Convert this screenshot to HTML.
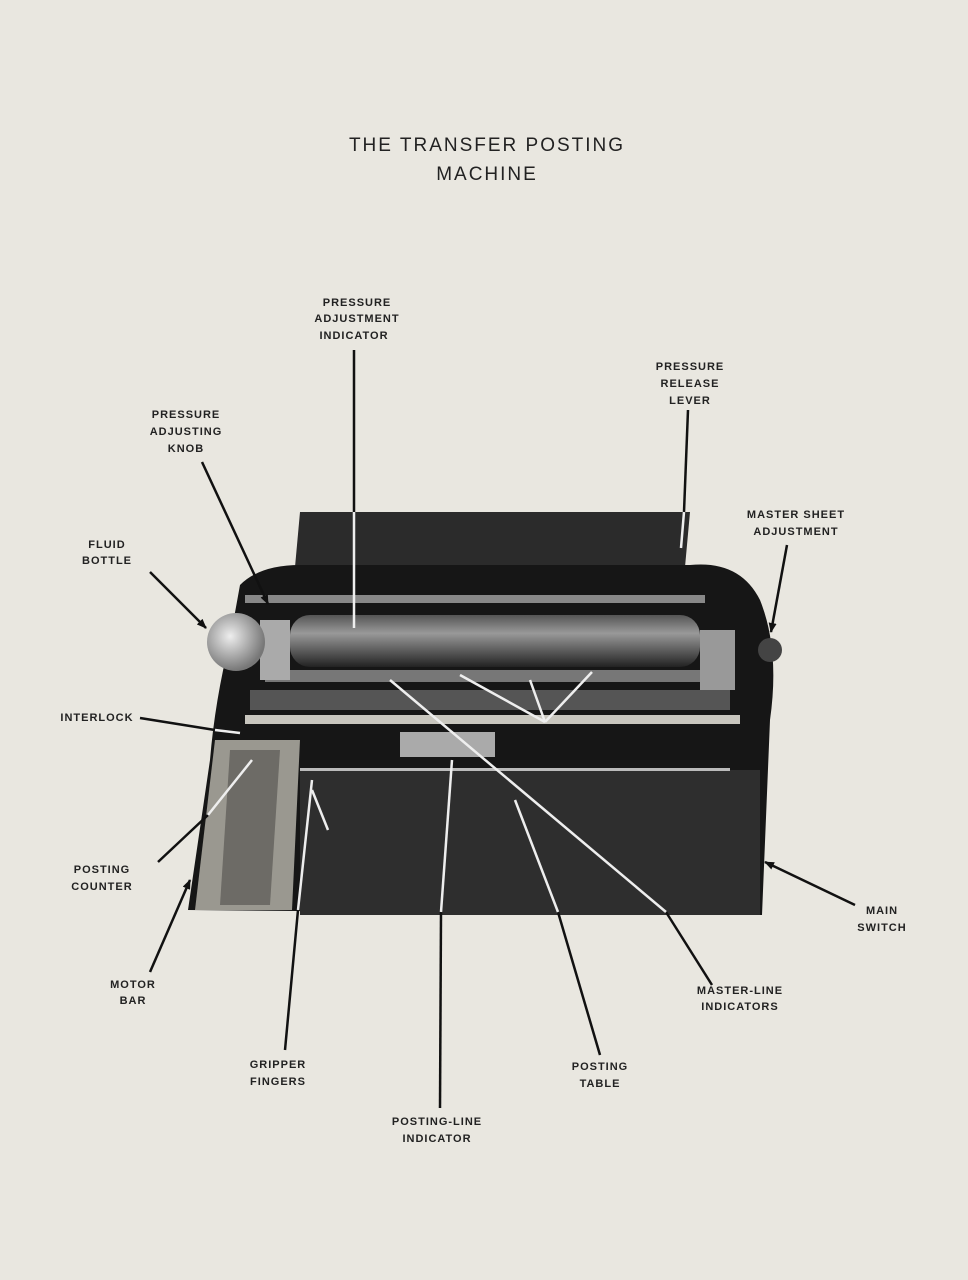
<!DOCTYPE html>
<html><head><meta charset="utf-8"><style>
html,body{margin:0;padding:0;background:#e9e7e0;}
svg{display:block}
text{font-family:"Liberation Sans",sans-serif;fill:#222;}
.l{font-size:11px;letter-spacing:1px;text-anchor:middle;font-weight:bold}
.t{font-size:19px;letter-spacing:2px;text-anchor:middle}
</style></head><body>
<svg width="968" height="1280" viewBox="0 0 968 1280" xmlns="http://www.w3.org/2000/svg">
<defs>
<linearGradient id="rol" x1="0" y1="0" x2="0" y2="1">
<stop offset="0" stop-color="#555"/><stop offset="0.35" stop-color="#999"/><stop offset="1" stop-color="#222"/></linearGradient>
<radialGradient id="bot" cx="0.4" cy="0.4" r="0.6"><stop offset="0" stop-color="#eee"/><stop offset="1" stop-color="#777"/></radialGradient>
<marker id="a" markerWidth="10" markerHeight="8" refX="9" refY="4" orient="auto" markerUnits="userSpaceOnUse"><path d="M0,0 L10,4 L0,8 z" fill="#111"/></marker>
</defs>
<rect width="968" height="1280" fill="#e9e7e0"/>
<text class="t" x="487" y="151">THE TRANSFER POSTING</text>
<text class="t" x="487" y="180">MACHINE</text>
<!-- machine -->
<polygon points="300,512 690,512 682,600 292,600" fill="#2b2b2b"/>
<path d="M240,585 Q260,565 300,565 L690,565 Q740,560 760,600 Q780,650 770,720 L762,915 L188,910 L210,760 Q215,700 230,640 Z" fill="#161616"/>
<rect x="300" y="770" width="460" height="145" fill="#2e2e2e"/>
<polygon points="215,740 300,740 292,910 195,910" fill="#9a9890"/>
<polygon points="230,750 280,750 270,905 220,905" fill="#6d6b66"/>
<rect x="245" y="595" width="460" height="8" fill="#888"/>
<rect x="290" y="615" width="410" height="52" rx="20" fill="url(#rol)"/>
<rect x="265" y="670" width="470" height="12" fill="#777"/>
<rect x="250" y="690" width="480" height="20" fill="#555"/>
<rect x="245" y="715" width="495" height="9" fill="#c8c6be"/>
<rect x="400" y="732" width="95" height="25" fill="#aaa"/>
<rect x="300" y="768" width="430" height="3" fill="#bbb"/>
<rect x="260" y="620" width="30" height="60" fill="#aaa"/>
<rect x="700" y="630" width="35" height="60" fill="#999"/>
<circle cx="236" cy="642" r="29" fill="url(#bot)"/>
<circle cx="770" cy="650" r="12" fill="#444"/>
<!-- labels -->
<g class="l">
<text x="357" y="306">PRESSURE</text><text x="357" y="322">ADJUSTMENT</text><text x="354" y="339">INDICATOR</text>
<text x="690" y="370">PRESSURE</text><text x="690" y="387">RELEASE</text><text x="690" y="404">LEVER</text>
<text x="186" y="418">PRESSURE</text><text x="186" y="435">ADJUSTING</text><text x="186" y="452">KNOB</text>
<text x="107" y="548">FLUID</text><text x="107" y="564">BOTTLE</text>
<text x="796" y="518">MASTER SHEET</text><text x="796" y="535">ADJUSTMENT</text>
<text x="97" y="721">INTERLOCK</text>
<text x="102" y="873">POSTING</text><text x="102" y="890">COUNTER</text>
<text x="133" y="988">MOTOR</text><text x="133" y="1004">BAR</text>
<text x="278" y="1068">GRIPPER</text><text x="278" y="1085">FINGERS</text>
<text x="437" y="1125">POSTING-LINE</text><text x="437" y="1142">INDICATOR</text>
<text x="600" y="1070">POSTING</text><text x="600" y="1087">TABLE</text>
<text x="740" y="994">MASTER-LINE</text><text x="740" y="1010">INDICATORS</text>
<text x="882" y="914">MAIN</text><text x="882" y="931">SWITCH</text>
</g>
<g stroke="#111" stroke-width="2.5" fill="none">
<line x1="354" y1="350" x2="354" y2="512"/>
<line x1="688" y1="410" x2="684" y2="512"/>
<line x1="202" y1="462" x2="268" y2="604" marker-end="url(#a)"/>
<line x1="150" y1="572" x2="206" y2="628" marker-end="url(#a)"/>
<line x1="787" y1="545" x2="771" y2="632" marker-end="url(#a)"/>
<line x1="140" y1="718" x2="215" y2="730"/>
<line x1="158" y1="862" x2="208" y2="815"/>
<line x1="150" y1="972" x2="190" y2="880" marker-end="url(#a)"/>
<line x1="285" y1="1050" x2="298" y2="910"/>
<line x1="440" y1="1108" x2="441" y2="912"/>
<line x1="600" y1="1055" x2="558" y2="912"/>
<line x1="712" y1="985" x2="666" y2="912"/>
<line x1="855" y1="905" x2="765" y2="862" marker-end="url(#a)"/>
</g>
<g stroke="#eee" stroke-width="2.5" fill="none">
<line x1="354" y1="512" x2="354" y2="628"/>
<line x1="684" y1="512" x2="681" y2="548"/>
<line x1="215" y1="730" x2="240" y2="733"/>
<line x1="208" y1="815" x2="252" y2="760"/>
<line x1="298" y1="910" x2="312" y2="780"/>
<line x1="312" y1="790" x2="328" y2="830"/>
<line x1="441" y1="912" x2="452" y2="760"/>
<line x1="558" y1="912" x2="515" y2="800"/>
<line x1="666" y1="912" x2="390" y2="680"/>
<line x1="545" y1="722" x2="460" y2="675"/>
<line x1="545" y1="722" x2="530" y2="680"/>
<line x1="545" y1="722" x2="592" y2="672"/>
</g>
</svg>
</body></html>
